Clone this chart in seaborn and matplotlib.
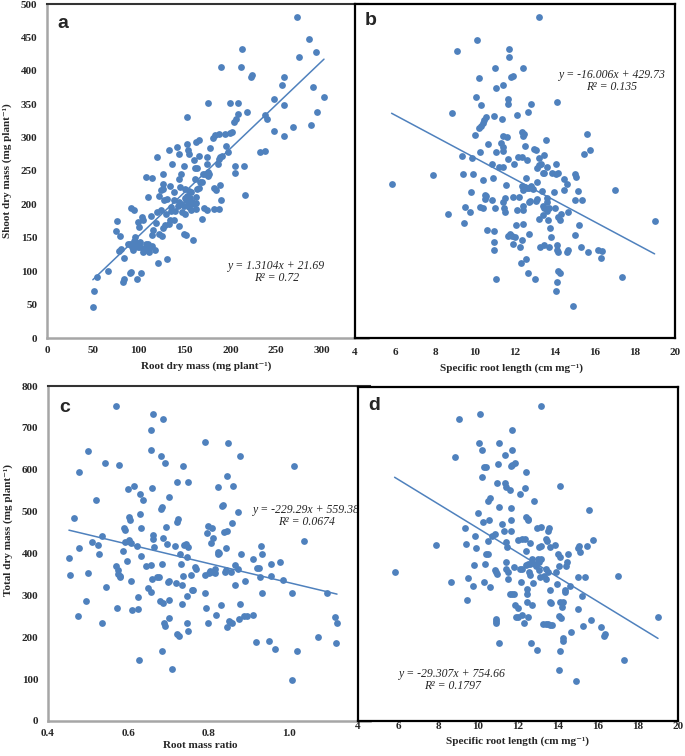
import matplotlib
matplotlib.use("Agg")
import matplotlib.pyplot as plt
import seaborn as sns

sns.set_style("white")
plt.rcParams['font.family'] = ['Liberation Serif', 'DejaVu Serif']
plt.rcParams['font.weight'] = 'bold'

BLUE = '#4F81BD'

# panel a: root dry mass vs shoot dry mass
root_a = [50, 51, 54, 67, 83, 84, 90, 92, 98, 103,
          84, 75, 76, 80, 78, 81, 92, 95, 91, 93,
          94, 96, 98, 96, 99, 100, 101, 101, 104, 105,
          105, 109, 108, 111, 108, 110, 115, 113, 116, 119,
          115, 118, 114, 121, 120, 120, 124, 122, 124, 126,
          125, 122, 127, 126, 128, 129, 133, 131, 131, 134,
          135, 135, 134, 133, 136, 139, 138, 142, 144, 144,
          145, 144, 146, 149, 147, 149, 150, 152, 154, 156,
          158, 149, 152, 153, 153, 154, 155, 155, 157, 159,
          160, 161, 164, 161, 162, 163, 163, 164, 166, 163,
          166, 166, 167, 169, 169, 170, 172, 171, 174, 174,
          174, 175, 176, 177, 175, 178, 181, 183, 182, 184,
          182, 187, 186, 187, 189, 191, 188, 189, 190, 190,
          194, 195, 197, 200, 202, 200, 204, 206, 208, 208,
          211, 213, 205, 205, 215, 216, 218, 222, 223, 232,
          238, 238, 240, 248, 248, 256, 258, 258, 258, 268,
          273, 275, 286, 288, 290, 293, 294, 302,
          140, 143, 146, 151, 155, 157, 160, 150, 153, 156,
          144, 138, 107, 110, 112, 95, 99, 88, 126, 130]
shoot_a = [47, 71, 92, 100, 84, 89, 98, 99, 88, 97,
           120, 160, 175, 152, 130, 133, 194, 191, 140, 136,
           132, 143, 138, 151, 173, 166, 143, 136, 181, 176,
           128, 131, 141, 128, 241, 211, 239, 183, 162, 172,
           138, 132, 154, 113, 271, 188, 191, 212, 221, 223,
           153, 156, 246, 231, 207, 169, 170, 118, 208, 177,
           190, 196, 228, 281, 261, 219, 206, 286, 276, 238,
           226, 203, 246, 257, 188, 198, 223, 206, 199, 210,
           204, 156, 154, 331, 290, 282, 275, 220, 218, 146,
           267, 255, 255, 238, 211, 193, 202, 223, 225, 294,
           297, 272, 233, 234, 178, 246, 246, 195, 191, 271,
           260, 242, 248, 245, 352, 285, 300, 304, 225, 221,
           193, 193, 261, 268, 271, 273, 306, 229, 207, 405,
           305, 288, 278, 307, 308, 352, 323, 328, 335, 352,
           405, 433, 258, 247, 257, 214, 338, 391, 393, 279,
           280, 334, 328, 358, 310, 378, 390, 349, 303, 316,
           480, 420, 447, 319, 375, 428, 338, 361,
           190, 197, 200, 186, 196, 192, 200, 210, 213, 205,
           168, 176, 135, 140, 136, 145, 136, 140, 165, 185]

# panel b: specific root length vs shoot dry mass
srl_b = [5.83, 7.88, 8.63, 8.85, 9.08, 9.35, 9.38, 9.50, 9.47, 9.75,
         9.80, 9.83, 9.90, 10.02, 10.03, 10.12, 10.22, 10.23, 10.27, 10.28,
         10.38, 10.42, 10.18, 10.30, 10.38, 10.45, 10.55, 10.50, 10.55, 10.48,
         10.67, 10.58, 10.83, 10.90, 10.85, 10.93, 10.93, 10.93, 10.93, 11.02,
         11.02, 11.07, 11.07, 11.07, 11.22, 11.38, 11.35, 11.32, 11.40, 11.42,
         11.38, 11.42, 11.45, 11.50, 11.42, 11.50, 11.55, 11.62, 11.65, 11.67,
         11.67, 11.67, 11.75, 11.83, 11.70, 11.72, 11.78, 11.88, 11.92, 11.92,
         11.95, 12.00, 12.03, 12.10, 12.12, 12.20, 12.23, 12.17, 12.33, 12.32,
         12.37, 12.40, 12.35, 12.42, 12.47, 12.35, 12.42, 12.50, 12.42, 12.42,
         12.40, 12.50, 12.53, 12.53, 12.58, 12.63, 12.63, 12.60, 12.72, 12.82,
         12.90, 12.68, 12.75, 12.72, 12.78, 12.95, 13.05, 13.00, 13.08, 13.07,
         13.10, 13.12, 13.22, 13.32, 13.18, 13.18, 13.22, 13.25, 13.35, 13.38,
         13.47, 13.47, 13.47, 13.40, 13.40, 13.47, 13.57, 13.58, 13.60, 13.62,
         13.62, 13.68, 13.65, 13.72, 13.73, 13.80, 13.83, 13.93, 14.00, 14.07,
         14.07, 14.15, 14.08, 14.08, 14.10, 14.15, 14.12, 14.05, 14.15, 14.25,
         14.17, 14.25, 14.28, 14.43, 14.43, 14.58, 14.65, 14.58, 14.63, 14.88,
         14.98, 15.05, 15.02, 15.02, 15.13, 15.18, 15.28, 15.37, 15.43, 15.58,
         15.63, 15.75, 16.17, 16.33, 16.28, 17.02, 17.33, 18.98]
shoot_b = [230, 244, 186, 337, 429, 272, 246, 196, 172, 188,
           218, 270, 245, 304, 361, 446, 389, 278, 196, 349,
           194, 237, 315, 318, 322, 326, 331, 208, 212, 214,
           290, 162, 261, 239, 206, 332, 160, 143, 132, 194,
           404, 374, 88, 279, 256, 378, 328, 292, 286, 280,
           302, 256, 194, 189, 203, 209, 229, 301, 358, 351,
           268, 152, 156, 153, 420, 432, 390, 392, 141, 211,
           261, 151, 169, 191, 334, 211, 136, 271, 271, 112,
           146, 404, 309, 303, 306, 228, 221, 226, 198, 191,
           170, 288, 240, 118, 267, 338, 97, 224, 225, 227,
           223, 204, 205, 156, 351, 283, 281, 88, 233, 205,
           208, 254, 259, 261, 270, 480, 178, 136, 220, 247,
           247, 274, 139, 197, 184, 195, 296, 256, 209, 204,
           190, 194, 176, 136, 164, 151, 247, 219, 194, 261,
           246, 247, 353, 139, 132, 128, 84, 71, 100, 97,
           181, 176, 186, 238, 221, 231, 188, 129, 132, 48,
           245, 241, 206, 154, 220, 169, 136, 207, 276, 306,
           129, 281, 131, 130, 120, 222, 92, 175]

# panel c: root mass ratio vs total dry mass
rmr_c = [0.452, 0.455, 0.464, 0.476, 0.477, 0.475, 0.495, 0.500, 0.500, 0.509,
         0.519, 0.525, 0.527, 0.534, 0.534, 0.542, 0.544, 0.570, 0.570, 0.575,
         0.578, 0.574, 0.580, 0.572, 0.577, 0.587, 0.588, 0.592, 0.592, 0.596,
         0.598, 0.600, 0.602, 0.603, 0.606, 0.606, 0.608, 0.613, 0.622, 0.623,
         0.623, 0.627, 0.629, 0.630, 0.630, 0.629, 0.637, 0.643, 0.648, 0.655,
         0.656, 0.656, 0.657, 0.658, 0.658, 0.660, 0.661, 0.662, 0.664, 0.670,
         0.676, 0.678, 0.680, 0.680, 0.683, 0.682, 0.684, 0.685, 0.685, 0.686,
         0.688, 0.691, 0.690, 0.693, 0.695, 0.697, 0.700, 0.700, 0.700, 0.701,
         0.708, 0.715, 0.718, 0.720, 0.723, 0.721, 0.720, 0.725, 0.728, 0.730,
         0.732, 0.733, 0.735, 0.736, 0.738, 0.742, 0.745, 0.746, 0.746, 0.747,
         0.749, 0.749, 0.755, 0.758, 0.761, 0.766, 0.768, 0.789, 0.789, 0.791,
         0.792, 0.796, 0.797, 0.798, 0.800, 0.802, 0.804, 0.804, 0.807, 0.809,
         0.814, 0.815, 0.818, 0.822, 0.823, 0.825, 0.823, 0.829, 0.833, 0.836,
         0.838, 0.844, 0.840, 0.843, 0.843, 0.845, 0.847, 0.844, 0.849, 0.852,
         0.857, 0.855, 0.858, 0.860, 0.865, 0.865, 0.872, 0.873, 0.874, 0.876,
         0.877, 0.880, 0.889, 0.888, 0.895, 0.910, 0.910, 0.917, 0.920, 0.923,
         0.927, 0.930, 0.932, 0.932, 0.949, 0.954, 0.955, 0.964, 0.977, 0.985,
         1.007, 1.007, 1.012, 1.018, 1.035, 1.072, 1.093, 1.113, 1.118, 1.115]
total_c = [390, 349, 484, 595, 414, 251, 286, 645, 354, 428,
           527, 420, 398, 235, 441, 616, 321, 752, 371, 360,
           347, 350, 343, 271, 612, 406, 462, 456, 428, 383,
           553, 433, 488, 480, 426, 334, 265, 561, 418, 296,
           268, 146, 542, 394, 462, 494, 527, 370, 317, 373,
           309, 647, 696, 556, 338, 732, 444, 434, 416, 344,
           344, 286, 634, 507, 510, 375, 168, 722, 436, 281,
           233, 227, 615, 464, 422, 332, 334, 290, 534, 245,
           123, 417, 330, 476, 483, 570, 207, 203, 398, 375,
           324, 279, 346, 608, 420, 422, 391, 298, 233, 214,
           416, 570, 348, 313, 313, 368, 363, 666, 349, 305,
           269, 448, 465, 235, 354, 358, 356, 424, 460, 438,
           353, 363, 253, 400, 404, 402, 559, 278, 514, 516,
           452, 454, 357, 360, 414, 585, 663, 225, 239, 236,
           233, 355, 472, 562, 372, 325, 499, 362, 243, 279,
           632, 400, 334, 251, 251, 387, 253, 188, 366, 366,
           343, 418, 398, 305, 192, 347, 375, 173, 379, 337,
           305, 97, 608, 167, 429, 201, 305, 249, 234, 187]

# panel d: specific root length vs total dry mass
srl_d = [5.83, 7.88, 8.63, 8.83, 9.07, 9.35, 9.38, 9.48, 9.45, 9.75,
         9.80, 9.83, 9.88, 9.98, 10.03, 10.12, 10.22, 10.23, 10.18, 10.28,
         10.38, 10.30, 10.35, 10.38, 10.48, 10.50, 10.58, 10.53, 10.52, 10.60,
         10.68, 10.85, 10.85, 10.90, 10.97, 10.90, 10.92, 10.92, 10.95, 11.00,
         11.03, 11.05, 11.05, 11.20, 11.30, 11.35, 11.37, 11.42, 11.42, 11.47,
         11.40, 11.42, 11.50, 11.50, 11.62, 11.63, 11.63, 11.63, 11.68, 11.68,
         11.65, 11.72, 11.85, 11.62, 11.70, 11.78, 11.80, 11.87, 11.92, 12.02,
         12.20, 12.02, 12.02, 12.22, 12.33, 12.08, 12.12, 12.22, 12.17, 12.28,
         12.38, 12.37, 12.38, 12.50, 12.52, 12.42, 12.40, 12.48, 12.62, 12.47,
         12.45, 12.43, 12.52, 12.55, 12.62, 12.58, 12.65, 12.70, 12.72, 12.73,
         12.78, 12.85, 12.92, 12.97, 12.95, 13.17, 13.00, 13.05, 13.15, 13.05,
         13.17, 13.05, 13.12, 13.17, 13.25, 13.38, 13.50, 13.58, 13.68, 13.28,
         13.38, 13.40, 13.45, 13.42, 13.50, 13.52, 13.55, 13.58, 13.60, 13.62,
         13.63, 13.85, 13.92, 13.93, 14.02, 14.12, 14.05, 14.05, 14.08, 14.13,
         14.08, 14.22, 14.25, 14.12, 14.25, 14.25, 14.33, 14.37, 14.42, 14.45,
         14.52, 14.62, 14.63, 14.05, 14.90, 14.98, 15.08, 15.05, 15.02, 15.02,
         15.20, 15.27, 15.37, 15.43, 15.57, 15.65, 15.75, 16.17, 16.30, 16.33,
         17.02, 17.32, 19.00]
total_d = [357, 421, 334, 633, 723, 463, 424, 342, 291, 324,
           373, 444, 415, 498, 665, 735, 648, 476, 585, 608,
           608, 334, 376, 399, 399, 527, 534, 482, 430, 321,
           443, 447, 362, 356, 351, 245, 240, 234, 571, 616,
           667, 513, 187, 473, 455, 636, 570, 561, 429, 417,
           380, 363, 357, 339, 553, 510, 481, 454, 697, 648,
           610, 614, 618, 305, 305, 305, 369, 279, 250, 248,
           254, 270, 433, 436, 437, 543, 365, 363, 334, 234,
           597, 559, 488, 484, 482, 406, 373, 375, 377, 317,
           304, 286, 249, 357, 349, 427, 187, 389, 278, 331,
           527, 375, 371, 171, 463, 465, 387, 380, 389, 417,
           419, 361, 345, 754, 233, 232, 232, 231, 231, 347,
           341, 437, 431, 365, 357, 454, 462, 417, 313, 286,
           282, 421, 357, 329, 399, 393, 371, 251, 562, 246,
           285, 273, 285, 167, 199, 191, 309, 313, 371, 382,
           400, 324, 214, 122, 97, 414, 404, 418, 345, 269,
           299, 227, 345, 420, 506, 241, 434, 224, 204, 208,
           348, 147, 250]

# published trend lines (slope, intercept) and their labels
slopes = [1.3104, -16.006, -229.29, -29.307]
intercepts = [21.69, 429.73, 559.38, 754.66]
equations = ["y = 1.3104x + 21.69", "y = -16.006x + 429.73",
             "y = -229.29x + 559.38", "y = -29.307x + 754.66"]
r2_labels = ["R² = 0.72", "R² = 0.135", "R² = 0.0674", "R² = 0.1797"]
letters = ["a", "b", "c", "d"]

fig = plt.figure(figsize=(6.85, 7.56), dpi=100)
W, H = 685, 756


def box(l, t, r, b):
    return [l / W, 1 - b / H, (r - l) / W, (b - t) / H]


ax_a = fig.add_axes(box(47, 4, 368, 338), zorder=1)
ax_c = fig.add_axes(box(48, 386, 370, 721), zorder=1)
ax_b = fig.add_axes(box(355, 4, 675, 338), zorder=2)
ax_d = fig.add_axes(box(358, 387, 678, 721), zorder=2)

panels = [
    (ax_a, root_a, shoot_a, (0.716, 0.216), (0.031, 0.967)),
    (ax_b, srl_b, shoot_b, (0.803, 0.787), (0.031, 0.976)),
    (ax_c, rmr_c, total_c, (0.804, 0.63), (0.034, 0.961)),
    (ax_d, srl_d, total_d, (0.294, 0.141), (0.031, 0.97)),
]

for i, (ax, x, y, eq_pos, let_pos) in enumerate(panels):
    sns.scatterplot(x=x, y=y, ax=ax, color=BLUE, s=24, linewidth=0, zorder=3)
    xs = [min(x), max(x)]
    ax.plot(xs, [slopes[i] * v + intercepts[i] for v in xs], color=BLUE, lw=1.1, zorder=2)
    ax.text(eq_pos[0], eq_pos[1], equations[i], transform=ax.transAxes, ha='center',
            va='center', style='italic', fontweight='normal', fontsize=8.5)
    ax.text(eq_pos[0], eq_pos[1] - 0.036, r2_labels[i], transform=ax.transAxes, ha='center',
            va='center', style='italic', fontweight='normal', fontsize=8.5)
    ax.text(let_pos[0], let_pos[1], letters[i], transform=ax.transAxes, va='top', ha='left',
            fontfamily='Liberation Sans', fontweight='bold', fontsize=14)
    ax.set_facecolor('white')
    ax.tick_params(length=0, labelsize=8)

# left panels: grey Excel-like axes
ax_a.set_xlim(0, 350)
ax_a.set_ylim(0, 500)
ax_a.set_xticks(range(0, 301, 50))
ax_a.set_yticks(range(0, 501, 50))
ax_c.set_xlim(0.4, 1.2)
ax_c.set_ylim(0, 800)
ax_c.set_xticks([0.4, 0.6, 0.8, 1.0])
ax_c.set_xticklabels(["0.4", "0.6", "0.8", "1.0"])
ax_c.set_yticks(range(0, 801, 100))
for ax in (ax_a, ax_c):
    ax.spines['right'].set_visible(False)
    ax.spines['top'].set_color('#333333')
    ax.spines['top'].set_linewidth(1.5)
    for s in ('left', 'bottom'):
        ax.spines[s].set_color('#A6A6A6')
        ax.spines[s].set_linewidth(1.8)
    ax.tick_params(axis='y', pad=7)
    ax.tick_params(axis='x', pad=6)

# right panels: black frames, no y labels
ax_b.set_ylim(0, 500)
ax_d.set_ylim(0, 800)
for ax in (ax_b, ax_d):
    ax.set_xlim(4, 20)
    ax.set_xticks(range(4, 21, 2))
    ax.set_yticks([])
    for s in ax.spines.values():
        s.set_color('black')
        s.set_linewidth(1.6)
ax_b.tick_params(axis='x', pad=7)
ax_d.tick_params(axis='x', pad=1)

lab = dict(fontsize=8, fontweight='bold', va='center', ha='center')
ax_a.set_xlabel("Root dry mass (mg plant⁻¹)", **lab)
ax_a.xaxis.set_label_coords(0.495, -0.084)
ax_a.set_ylabel("Shoot dry mass (mg plant⁻¹)", **lab)
ax_a.yaxis.set_label_coords(-0.125, 0.5)
ax_b.set_xlabel("Specific root length (cm mg⁻¹)", **lab)
ax_b.xaxis.set_label_coords(0.488, -0.09)
ax_c.set_xlabel("Root mass ratio", **lab)
ax_c.xaxis.set_label_coords(0.474, -0.072)
ax_c.set_ylabel("Total dry mass (mg plant⁻¹)", **lab)
ax_c.yaxis.set_label_coords(-0.124, 0.57)
ax_d.set_xlabel("Specific root length (cm mg⁻¹)", **lab)
ax_d.xaxis.set_label_coords(0.497, -0.06)

fig.savefig("out.png", dpi=100)
